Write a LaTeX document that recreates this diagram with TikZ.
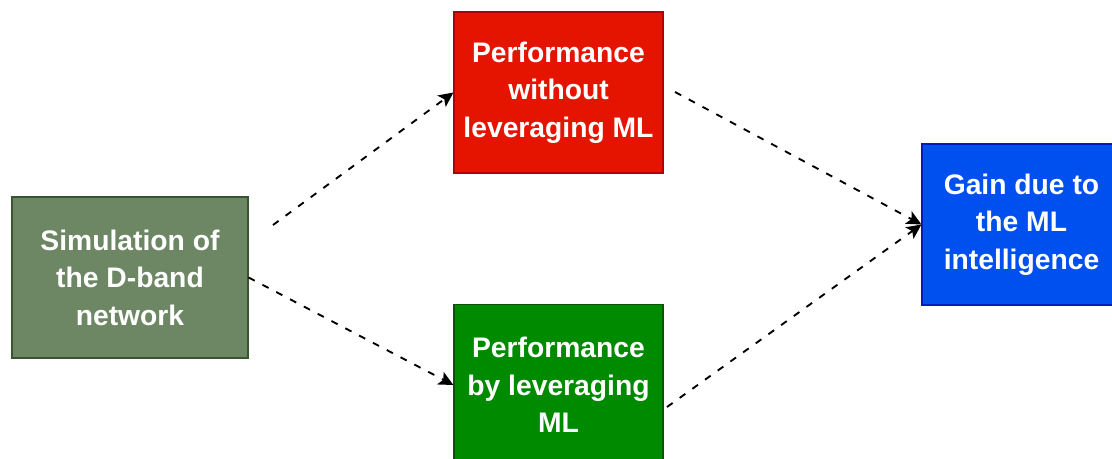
\documentclass[tikz,border=0pt]{standalone}
\usepackage{fontspec}
\setmainfont{Liberation Sans}
\usetikzlibrary{arrows.meta}
\definecolor{simfill}{HTML}{6D8764}
\definecolor{simdraw}{HTML}{3A5431}
\definecolor{redfill}{HTML}{E51400}
\definecolor{reddraw}{HTML}{B20000}
\definecolor{grnfill}{HTML}{008A00}
\definecolor{grndraw}{HTML}{005700}
\definecolor{blufill}{HTML}{0050EF}
\definecolor{bludraw}{HTML}{001DBC}
\tikzset{
  box/.style={rectangle, line width=0.9pt, text=white, align=center, inner sep=0pt,
    font=\bfseries\fontsize{21.2pt}{28.2pt}\selectfont},
  flow/.style={line width=1.4pt, dash pattern=on 5.2pt off 6.5pt,
    -{Stealth[length=11pt,width=10.5pt,inset=2.5pt]}}
}
\begin{document}
\begin{tikzpicture}[x=0.75pt,y=-0.75pt]
\useasboundingbox (0,0) rectangle (1112,459);
\clip (0,0) rectangle (1112,459);
\fill[white] (0,0) rectangle (1112,459);
\node[box, fill=simfill, draw=simdraw, minimum width=236*0.75pt, minimum height=161*0.75pt] (sim) at (130,277.5) {Simulation of\\the D-band\\network};
\node[box, fill=redfill, draw=reddraw, minimum width=209*0.75pt, minimum height=161*0.75pt] (wo) at (558.5,92.5) {Performance\\without\\leveraging ML};
\node[box, fill=grnfill, draw=grndraw, minimum width=209*0.75pt, minimum height=161*0.75pt] (by) at (558.5,385) {Performance\\by leveraging\\ML};
\node[box, fill=blufill, draw=bludraw, minimum width=199*0.75pt, minimum height=161*0.75pt] (gain) at (1021.5,224.5) {Gain due to\\the ML\\intelligence};
\coordinate (s1) at (273,225);
\coordinate (s2) at (675,92);
\coordinate (s3) at (667,407);
\draw[flow] (s1) -- (wo.west);
\draw[flow] (sim.east) -- (by.west);
\draw[flow] (s2) -- (gain.west);
\draw[flow] (s3) -- (gain.west);
\end{tikzpicture}
\end{document}
